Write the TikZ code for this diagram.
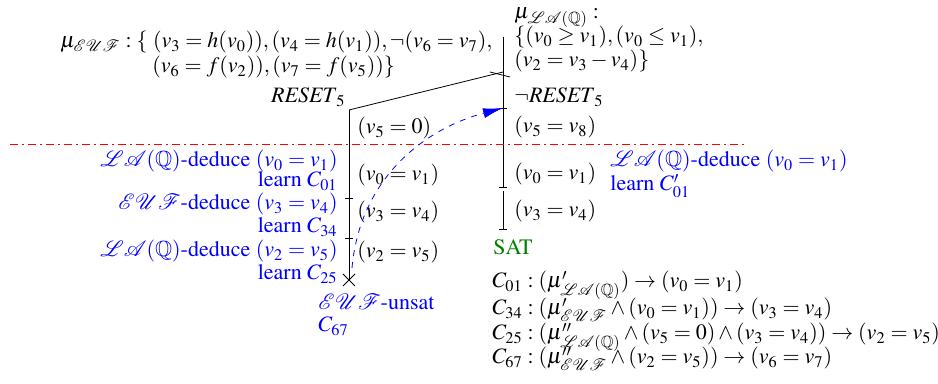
\documentclass[tikz,border=0pt]{standalone}
\usepackage[T1]{fontenc}
\usepackage{mathptmx}
\usepackage{amsfonts}
\usetikzlibrary{arrows.meta}
\newcommand{\EUF}{\mathcal{EUF}}
\newcommand{\LAQ}{\mathcal{LA}(\mathbb{Q})}
\begin{document}
\begin{tikzpicture}[x=0.5pt,y=-0.5pt,font=\fontsize{11}{12.5}\selectfont,>={Latex[length=10pt,width=5pt]},
  every node/.style={inner sep=0pt},
  lit/.style={anchor=base west},
  act/.style={text=blue,anchor=base east},
  actr/.style={text=blue,anchor=base west}]
  \useasboundingbox (0,0) rectangle (938,384);
  % assignments
  \node[lit] (euf1) at (60,48) {$\mu_{\EUF}:\{\ (v_3=h(v_0)),(v_4=h(v_1)),\neg(v_6=v_7),$};
  \node[lit] (euf2) at (152,73) {$(v_6=f(v_2)),(v_7=f(v_5))\}$};
  \node[lit] (laq1) at (514,19) {$\mu_{\LAQ}:$};
  \node[lit] (laq2) at (514,43) {$\{(v_0\geq v_1),(v_0\leq v_1),$};
  \node[lit] (laq3) at (514,67) {$(v_2=v_3-v_4)\}$};
  % trails
  \coordinate (ltop) at (349,110);
  \coordinate (lbot) at (349,280);
  \coordinate (rtop) at (503,37);
  \coordinate (rjoin) at (503,72);
  \coordinate (rarr) at (503,108);
  \coordinate (rmid) at (503,187);
  \coordinate (rmid2) at (503,191);
  \coordinate (rbot) at (503,229);
  \draw (rtop) -- (rmid);
  \draw (rmid2) -- (rbot);
  \draw (ltop) -- (rjoin);
  \draw (490,72) -- (510,77);
  \draw (ltop) -- (lbot);
  \foreach \c in {rarr,rmid,rbot}
    \draw (\c) +(-4,0) -- +(4,0);
  \draw (349,198) +(-4,0) -- +(4,0);
  \draw (349,238) +(-4,0) -- +(4,0);
  \draw (lbot) +(-6,-6) -- +(6,6) (lbot) +(-6,6) -- +(6,-6);
  \node[anchor=base east] (reset) at (346,103) {$\mathit{RESET}_5$};
  \node[lit] (nreset) at (514,103) {$\neg\mathit{RESET}_5$};
  \node[lit] (l1) at (357,134) {$(v_5=0)$};
  \node[lit] (l2) at (357,181) {$(v_0=v_1)$};
  \node[lit] (l3) at (357,218) {$(v_3=v_4)$};
  \node[lit] (l4) at (357,258) {$(v_2=v_5)$};
  \node[lit] (r1) at (514,133) {$(v_5=v_8)$};
  \node[lit] (r2) at (514,180) {$(v_0=v_1)$};
  \node[lit] (r3) at (514,217) {$(v_3=v_4)$};
  \draw[draw=red,line width=0.5pt,dash pattern=on 4pt off 2pt on 1pt off 2pt] (10,145) -- (747,145);
  % theory actions
  \node[act] (ded01) at (338,167) {$\LAQ$-deduce $(v_0=v_1)$};
  \node[act] (learn01) at (338,187) {learn $C_{01}$};
  \node[act] (ded34) at (338,210) {$\EUF$-deduce $(v_3=v_4)$};
  \node[act] (learn34) at (338,233) {learn $C_{34}$};
  \node[act] (ded25) at (338,257) {$\LAQ$-deduce $(v_2=v_5)$};
  \node[act] (learn25) at (338,280) {learn $C_{25}$};
  \node[actr] (unsat) at (318,310) {$\EUF$-unsat};
  \node[actr] (c67) at (318,332) {$C_{67}$};
  \node[actr] (ded01b) at (610,167) {$\LAQ$-deduce $(v_0=v_1)$};
  \node[actr] (learn01b) at (610,191) {learn $C'_{01}$};
  \draw[->,blue,dashed] (352,268) to[out=85,in=195] (rarr);
  \node[lit,text=green!50!black] (sat) at (493,255) {SAT};
  % learned clauses
  \node[lit] (cl01) at (492,288) {$C_{01}:(\mu'_{\LAQ})\rightarrow(v_0=v_1)$};
  \node[lit] (cl34) at (492,315) {$C_{34}:(\mu'_{\EUF}\wedge(v_0=v_1))\rightarrow(v_3=v_4)$};
  \node[lit] (cl25) at (492,340) {$C_{25}:(\mu''_{\LAQ}\wedge(v_5=0)\wedge(v_3=v_4))\rightarrow(v_2=v_5)$};
  \node[lit] (cl67) at (492,364) {$C_{67}:(\mu''_{\EUF}\wedge(v_2=v_5))\rightarrow(v_6=v_7)$};
\end{tikzpicture}
\end{document}
